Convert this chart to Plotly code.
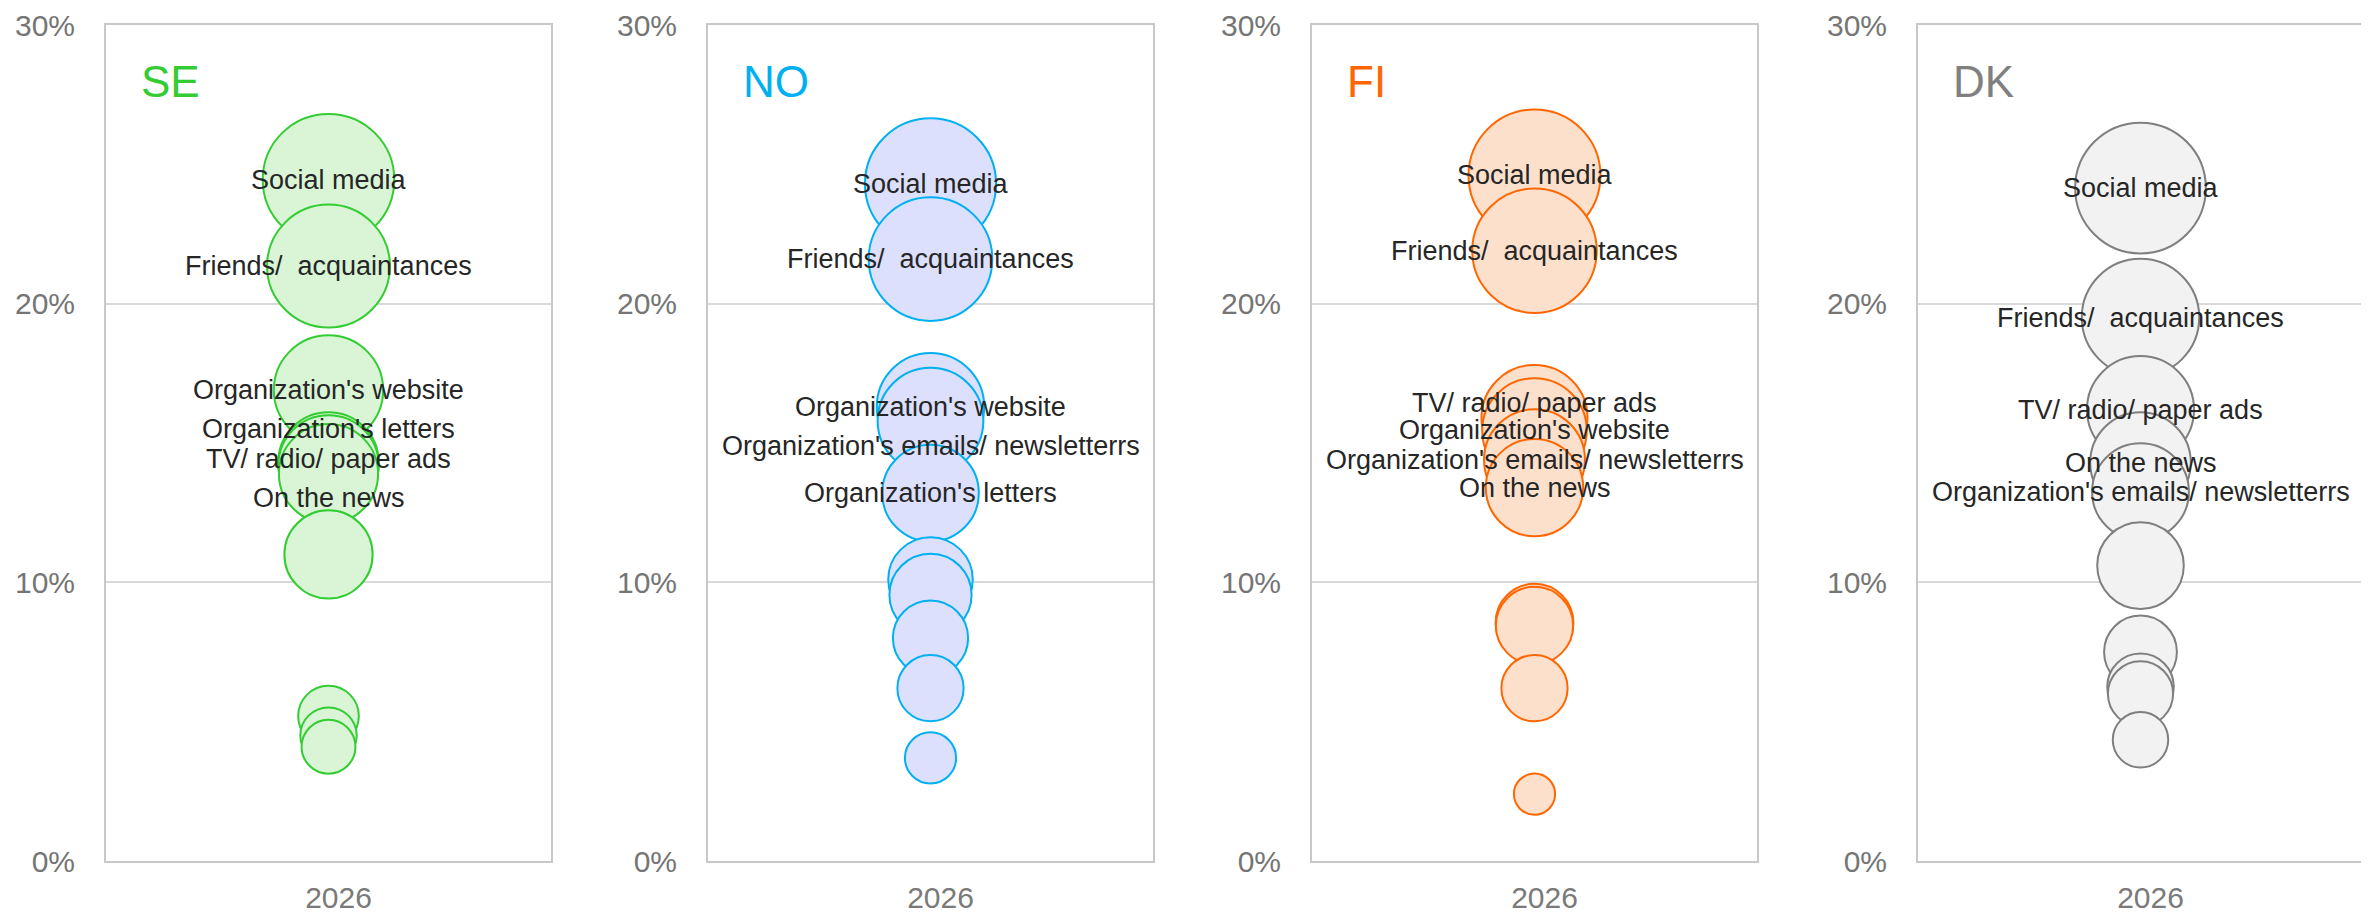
import plotly.graph_objects as go

# Share of respondents by channel, one bubble chart per country (values in %)
YEAR = "2026"
COUNTRIES = ["SE", "NO", "FI", "DK"]
Y_TICKS = [0, 10, 20, 30]

SM = "Social media"
FRIENDS = "Friends/\u00a0 acquaintances"
WEBSITE = "Organization's website"
LETTERS = "Organization's letters"
ADS = "TV/ radio/ paper ads"
NEWS = "On the news"
EMAILS = "Organization's emails/ newsletterrs"

se_labels = [SM, FRIENDS, WEBSITE, LETTERS, ADS, NEWS, "", "", "", ""]
se_values = [24.45, 21.35, 16.9, 14.3, 14.2, 13.9, 11.0, 5.2, 4.5, 4.1]

no_labels = [SM, FRIENDS, WEBSITE, EMAILS, LETTERS, "", "", "", "", ""]
no_values = [24.3, 21.6, 16.3, 15.8, 13.2, 10.1, 9.55, 8.0, 6.2, 3.7]

fi_labels = [SM, FRIENDS, ADS, WEBSITE, EMAILS, NEWS, "", "", "", ""]
fi_values = [24.6, 21.9, 15.9, 15.45, 14.4, 13.4, 8.55, 8.45, 6.2, 2.4]

dk_labels = [SM, FRIENDS, ADS, NEWS, EMAILS, "", "", "", "", ""]
dk_values = [24.15, 19.5, 16.2, 14.3, 13.25, 10.6, 7.5, 6.25, 6.0, 4.35]

data = {
    "SE": (se_labels, se_values),
    "NO": (no_labels, no_values),
    "FI": (fi_labels, fi_values),
    "DK": (dk_labels, dk_values),
}

# outline / fill colour per country
colors = {
    "SE": ("#33cc33", "#d9f5d6"),
    "NO": ("#00b0f0", "#dce0fc"),
    "FI": ("#ff6600", "#fde0cb"),
    "DK": ("#7f7f7f", "#f2f2f2"),
}
title_colors = {"SE": "#33cc33", "NO": "#00b0f0", "FI": "#ff6600", "DK": "#808080"}

# labels that were moved by hand in the original to avoid overlap (px, up = +)
label_nudge = {
    ("SE", LETTERS): 34,
    ("SE", ADS): 6,
    ("SE", NEWS): -24,
    ("NO", EMAILS): -25,
    ("FI", ADS): 15,
}

# the page body keeps its default 8px margin, so the figure is 8px smaller
W, H = 2361, 906
panel_left = [98, 700, 1304, 1910]
panel_width = 445
FONT = "Liberation Sans, Arial, sans-serif"
SIZEREF = 2 / 26.6 ** 2

fig = go.Figure()
annotations = []

for i, country in enumerate(COUNTRIES, start=1):
    labels, values = data[country]
    line_c, fill_c = colors[country]
    sfx = "" if i == 1 else str(i)

    fig.add_trace(go.Scatter(
        x=[0] * len(values),
        y=values,
        mode="markers",
        marker=dict(
            size=values,
            sizemode="area",
            sizeref=SIZEREF,
            color=fill_c,
            opacity=1,
            line=dict(color=line_c, width=2),
        ),
        text=labels,
        hovertemplate="%{text}: %{y:.1f}%<extra></extra>",
        showlegend=False,
        xaxis="x" + sfx,
        yaxis="y" + sfx,
    ))

    for lab, val in zip(labels, values):
        if not lab:
            continue
        annotations.append(dict(
            x=0, y=val, xref="x" + sfx, yref="y" + sfx,
            text=lab, showarrow=False,
            xanchor="center", yanchor="middle",
            yshift=label_nudge.get((country, lab), 0),
            font=dict(family=FONT, size=27, color="#262626"),
        ))

    annotations.append(dict(
        x=0.074, y=0.933, xref="x%s domain" % sfx, yref="y%s domain" % sfx,
        text=country, showarrow=False, xanchor="left", yanchor="middle",
        font=dict(family=FONT, size=44, color=title_colors[country]),
    ))

    x0 = panel_left[i - 1] / W
    x1 = (panel_left[i - 1] + panel_width) / W
    fig.update_layout(**{
        "xaxis" + sfx: dict(
            domain=[x0, x1], range=[-1, 1],
            tickvals=[0], ticktext=[YEAR],
            showgrid=False, zeroline=False,
            showline=True, mirror=True, linecolor="#c8c8c8", linewidth=2,
            tickfont=dict(family=FONT, size=30, color="#7a7a7a"),
            ticklabelstandoff=9, ticklabelshift=10,
            ticklabeloverflow="allow",
            anchor="y" + sfx, fixedrange=True,
        ),
        "yaxis" + sfx: dict(
            range=[0, 30], tickvals=Y_TICKS,
            ticktext=["%d%%" % t for t in Y_TICKS],
            showgrid=True, gridcolor="#d9d9d9", gridwidth=1.5,
            zeroline=False,
            showline=True, mirror=True, linecolor="#c8c8c8", linewidth=2,
            tickfont=dict(family=FONT, size=30, color="#757575"),
            ticklabelstandoff=23, ticklabeloverflow="allow",
            anchor="x" + sfx, fixedrange=True,
        ),
    })

fig.update_layout(
    width=W, height=H,
    margin=dict(l=0, r=0, t=13, b=52),
    paper_bgcolor="white", plot_bgcolor="white",
    annotations=annotations,
    font=dict(family=FONT),
)

fig.write_html("out.html")
